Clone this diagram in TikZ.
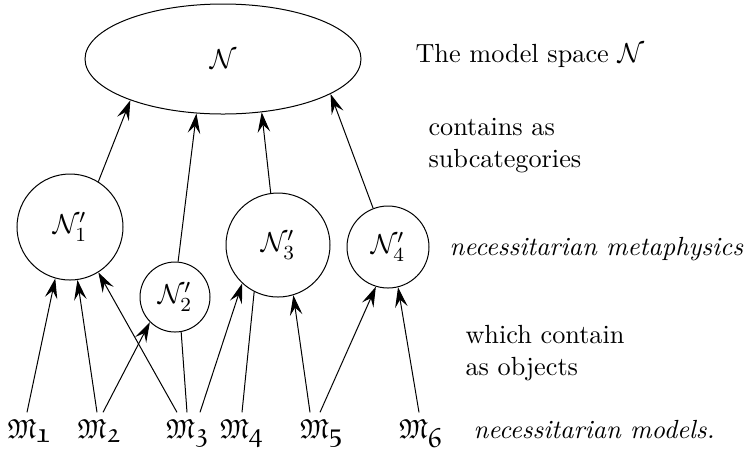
\documentclass[tikz,border=0pt,11pt]{standalone}
\usepackage{amssymb}
\usepackage{amsmath}
\usetikzlibrary{shapes.geometric,arrows.meta}

\begin{document}
\begin{tikzpicture}[x=0.4pt,y=-0.4pt,
  sub/.style={draw,circle,inner sep=0pt},
  mod/.style={anchor=base,inner ysep=2.5pt,inner xsep=0pt},
  txt/.style={anchor=base west,inner sep=0pt,align=left,
    font=\fontsize{10.5pt}{12.6pt}\selectfont},
  arr/.style={-{Stealth[length=8pt,width=5pt,inset=3pt]}}]
\useasboundingbox (0,0) rectangle (751,455);
\node[draw,ellipse,minimum width=110.4pt,minimum height=44pt,inner sep=0pt] (N) at (223,59) {\raisebox{-2pt}{$\mathcal{N}$}};
\node[sub,minimum size=42.4pt] (n1) at (70,227) {$\mathcal{N}'_1$};
\node[sub,minimum size=28pt] (n2) at (175,297) {$\mathcal{N}'_2$};
\node[sub,minimum size=41.6pt] (n3) at (278,245) {$\mathcal{N}'_3$};
\node[sub,minimum size=32.8pt] (n4) at (388,247) {$\mathcal{N}'_4$};
\node[mod] (m1) at (29.5,438) {$\mathfrak{M}_{\textstyle\mathfrak{1}}$};
\node[mod] (m2) at (99.5,438) {$\mathfrak{M}_{\textstyle\mathfrak{2}}$};
\node[mod] (m3) at (188,438) {$\mathfrak{M}_{\textstyle\mathfrak{3}}$};
\node[mod] (m4) at (242,438) {$\mathfrak{M}_{\textstyle\mathfrak{4}}$};
\node[mod] (m5) at (322,438) {$\mathfrak{M}_{\textstyle\mathfrak{5}}$};
\node[mod] (m6) at (421,438) {$\mathfrak{M}_{\textstyle\mathfrak{6}}$};
\draw[arr] ([xshift=-1pt]m1.north) -- (n1.-106);
\draw[arr] ([xshift=-1pt]m2.north) -- (n1.-82);
\draw[arr] ([xshift=1.4pt]m2.north) -- (n2.-135);
\draw[arr] ([xshift=-4.4pt]m3.north) -- (n1.-58);
\draw ([xshift=-0.4pt]m3.north) -- (n2.-80);
\draw[arr] ([xshift=4.8pt]m3.north) -- (n3.-133);
\draw (m4.north) -- (n3.-117);
\draw[arr] ([xshift=-4.8pt]m5.north) -- (n3.-73);
\draw[arr] ([xshift=-0.8pt]m5.north) -- (n4.-107);
\draw[arr] ([xshift=-0.8pt]m6.north) -- (n4.-76);
\draw[arr] (n1.58) -- (N.-156);
\draw[arr] (n2.85) -- (N.-116);
\draw[arr] (n3.98) -- (N.-54);
\draw[arr] (n4.111) -- (N.-18);
\node[txt] (t1) at (415,62) {The model space $\mathcal{N}$};
\node[txt] (t2) at (428,167) {contains as\\subcategories};
\node[txt,font=\fontsize{10.5pt}{12.6pt}\selectfont\itshape] (t3) at (449,255) {necessitarian metaphysics};
\node[txt] (t4) at (465,375) {which contain\\as objects};
\node[txt,font=\fontsize{10.5pt}{12.6pt}\selectfont\itshape] (t5) at (473,438) {necessitarian models.};
\end{tikzpicture}
\end{document}
